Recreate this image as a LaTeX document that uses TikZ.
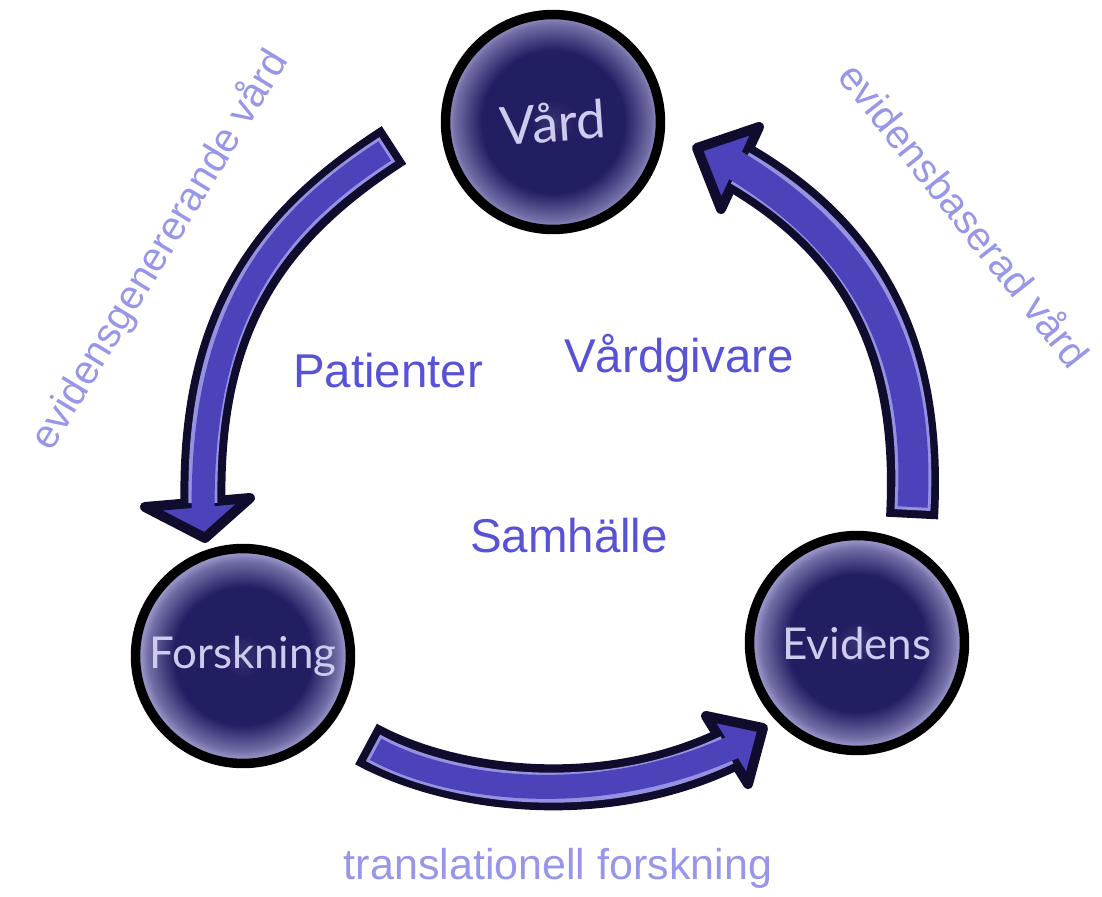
\documentclass[tikz,border=0pt]{standalone}
\usepackage{fontspec}
\setmainfont{Liberation Sans}
\newfontfamily\ballfont{Lato}
\usepackage{tikz}
\usetikzlibrary{calc}
\definecolor{ballcore}{RGB}{34,30,98}
\definecolor{balledge}{RGB}{175,173,220}
\definecolor{outline}{RGB}{16,12,46}
\definecolor{arrowcore}{RGB}{76,66,186}
\definecolor{arrowrim}{RGB}{150,146,226}
\definecolor{labelblue}{RGB}{88,82,214}
\definecolor{paleblue}{RGB}{152,150,232}
\definecolor{balltext}{RGB}{205,204,238}
\pgfdeclareradialshading{ballshade}{\pgfpointorigin}{color(0bp)=(ballcore!90!white); color(5bp)=(ballcore); color(16bp)=(ballcore); color(22bp)=(balledge!55!ballcore); color(25bp)=(balledge); color(50bp)=(white)}
\tikzstyle{ball} = [circle, draw=black, line width=0.19cm, minimum size=4.3cm, shading=ballshade, text=balltext, font=\ballfont\fontsize{25}{30}\selectfont]
\tikzstyle{head} = [draw=outline, fill=arrowcore, line width=0.2cm, line join=round]
\tikzstyle{actor} = [text=labelblue, font=\fontsize{27}{32}\selectfont]
\tikzstyle{flowlabel} = [text=paleblue, font=\fontsize{23}{28}\selectfont]
\tikzset{shaft/.style={line width=#1, draw=outline, line cap=butt,
    postaction={draw=arrowrim, line width=#1-0.32cm, shorten <=0.16cm},
    postaction={draw=arrowcore, line width=#1-0.44cm, shorten <=0.22cm, shorten >=-0.28cm}}}

\begin{document}
\begin{tikzpicture}[x=0.02cm, y=-0.02cm]
    \useasboundingbox (0,0) rectangle (1102,896);

    % Stations
    \node (vard) [ball, font=\ballfont\fontsize{30}{36}\selectfont, rotate=4] at (553,122) {Vård};
    \node (forskning) [ball] at (243,656) {Forskning};
    \node (evidens) [ball] at (857,643) {Evidens};

    % Arrow ends
    \coordinate (gentail) at (394,145);
    \coordinate (genend) at (203,503);
    \coordinate (transtail) at (366,744);
    \coordinate (transend) at (727,750);
    \coordinate (basetail) at (912,518);
    \coordinate (baseend) at (740,168);

    % Vård -> Forskning
    \draw [head] (145,507) -- (205,538) -- (250,498) -- cycle;
    \draw [shaft=0.9cm] (gentail) .. controls (270,225) and (200,320) .. (genend);

    % Forskning -> Evidens
    \draw [head] (706,716) -- (763,728) -- (748,784) -- cycle;
    \draw [shaft=0.92cm] (transtail) .. controls (450,790) and (600,810) .. (transend);

    % Evidens -> Vård
    \draw [head] (759,127) -- (697,148) -- (721,209) -- cycle;
    \draw [shaft=1.04cm] (basetail) .. controls (920,370) and (880,250) .. (baseend);

    % Actors
    \node (patienter) [actor] at (388,371) {Patienter};
    \node (vardgivare) [actor] at (679,358) {Vårdgivare};
    \node (samhalle) [actor] at (569,536) {Samhälle};

    % Flow labels
    \node (generating) [flowlabel, rotate=58.8] at (160,250) {evidensgenererande vård};
    \node (based) [flowlabel, rotate=-51.6] at (966,214) {evidensbaserad vård};
    \node (translational) [flowlabel, font=\fontsize{24.5}{29}\selectfont] at (558,868) {translationell forskning};
\end{tikzpicture}
\end{document}
